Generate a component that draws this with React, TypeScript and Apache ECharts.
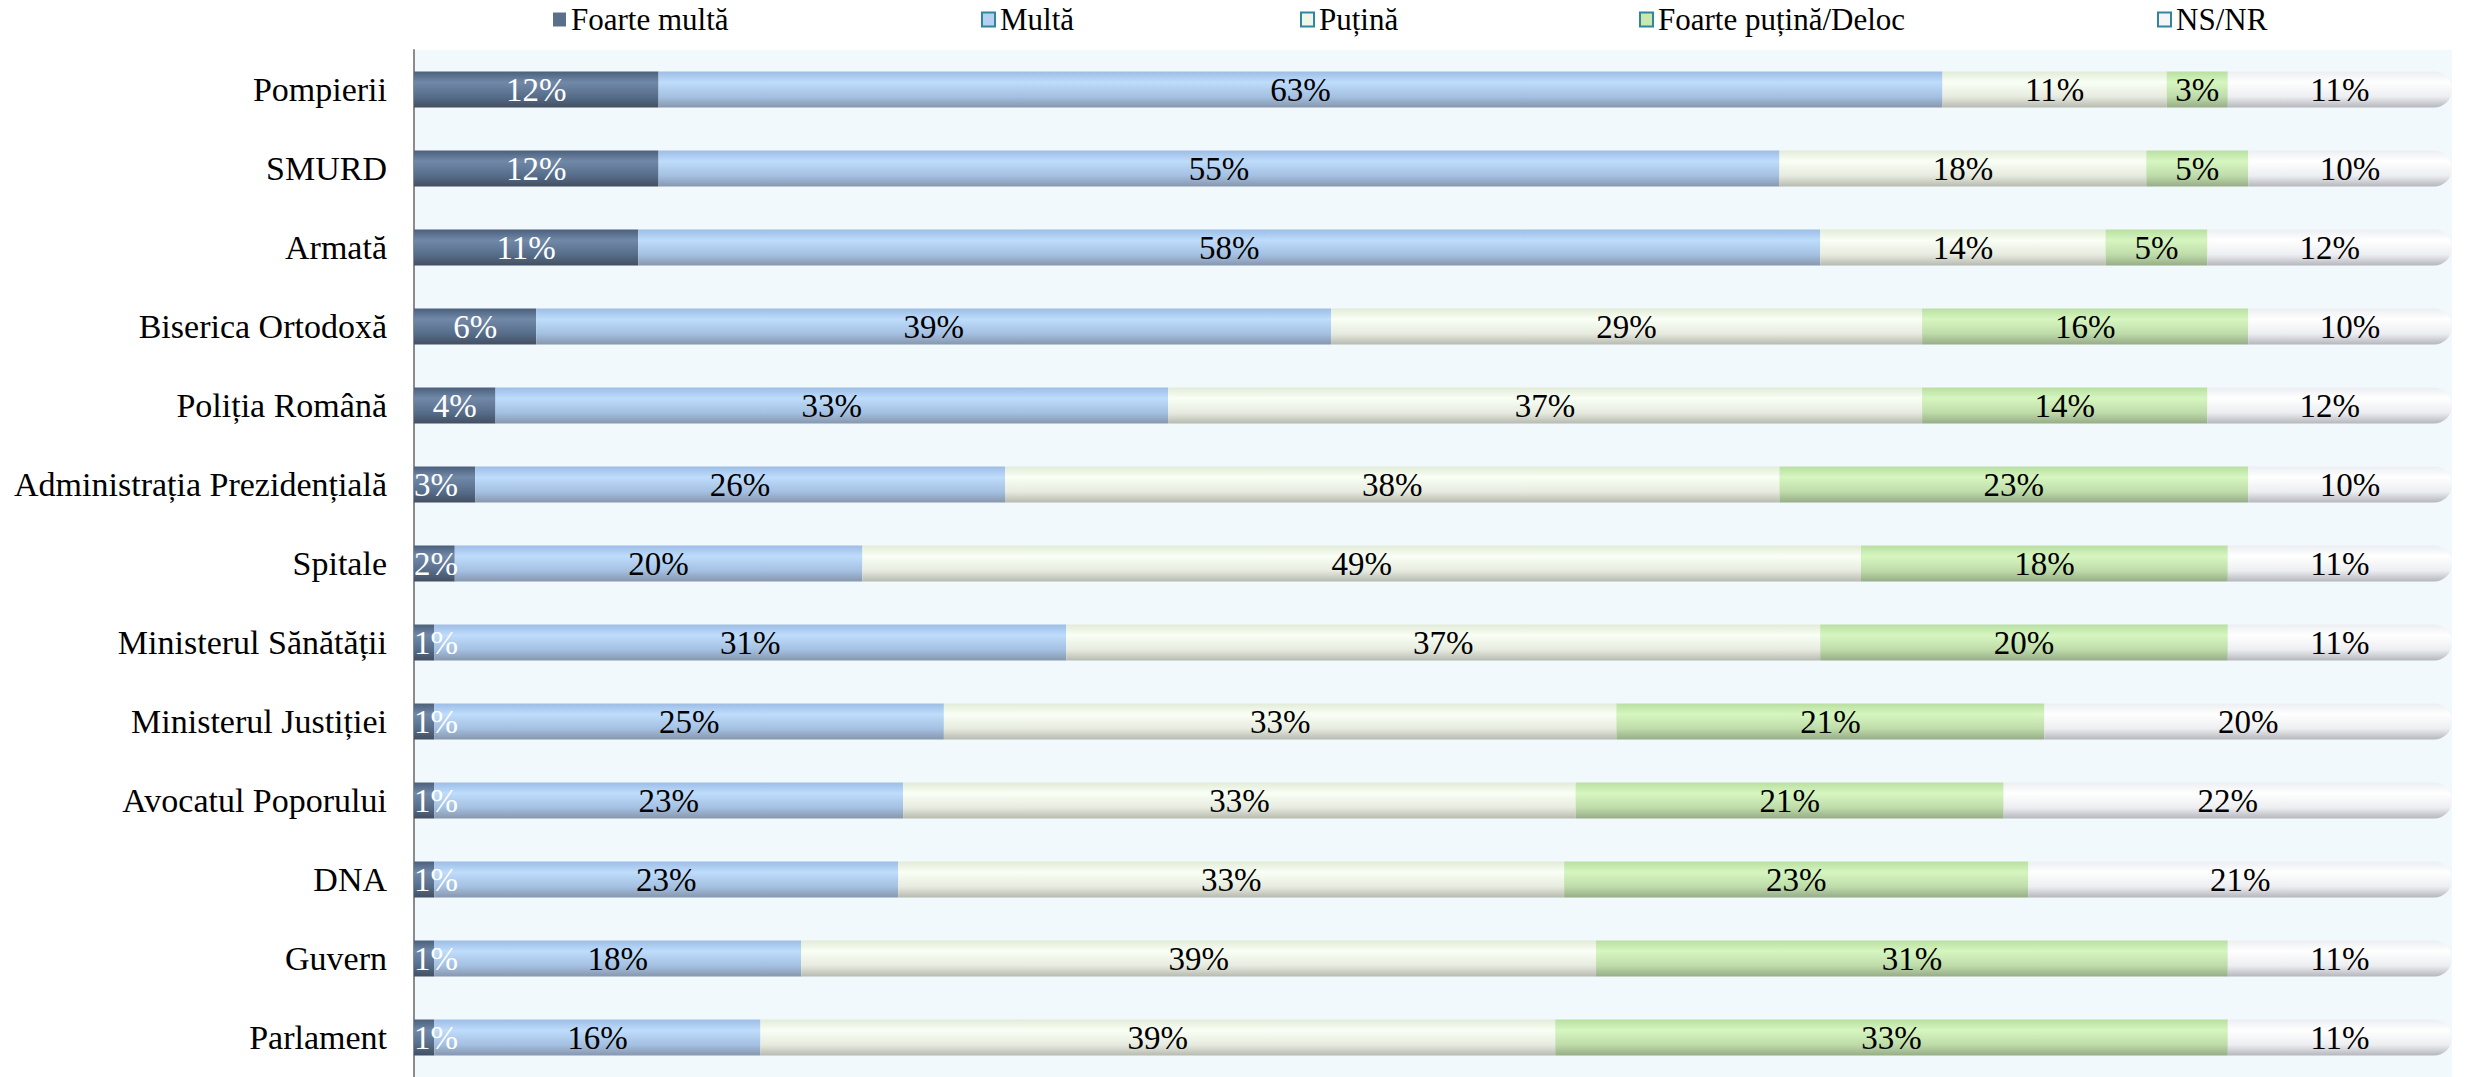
import React, { useEffect, useRef } from "react";
import * as echarts from "echarts";

const categories = [
  "Pompierii",
  "SMURD",
  "Armată",
  "Biserica Ortodoxă",
  "Poliția Română",
  "Administrația Prezidențială",
  "Spitale",
  "Ministerul Sănătății",
  "Ministerul Justiției",
  "Avocatul Poporului",
  "DNA",
  "Guvern",
  "Parlament",
];

const seriesNames = ["Foarte multă", "Multă", "Puțină", "Foarte puțină/Deloc", "NS/NR"];

const foarteMulta = [12, 12, 11, 6, 4, 3, 2, 1, 1, 1, 1, 1, 1];
const multa = [63, 55, 58, 39, 33, 26, 20, 31, 25, 23, 23, 18, 16];
const putina = [11, 18, 14, 29, 37, 38, 49, 37, 33, 33, 33, 39, 39];
const foartePutina = [3, 5, 5, 16, 14, 23, 18, 20, 21, 21, 23, 31, 33];
const nsnr = [11, 10, 12, 10, 12, 10, 11, 11, 20, 22, 21, 11, 11];

const allSeries = [foarteMulta, multa, putina, foartePutina, nsnr];

const FONT = "Liberation Serif";

function grad(stops: string[]) {
  return new echarts.graphic.LinearGradient(0, 0, 0, 1, [
    { offset: 0, color: stops[0] },
    { offset: 0.3, color: stops[1] },
    { offset: 0.7, color: stops[2] },
    { offset: 1, color: stops[3] },
  ]);
}

const gradients = [
  ["#4B607C", "#7189A8", "#566D8A", "#434F61"],
  ["#9DBDE6", "#BEDCFB", "#A4C0E2", "#8797AD"],
  ["#E2EBD8", "#F9FFF5", "#E7EBDF", "#B6BAB0"],
  ["#B9DFA1", "#D6F6C0", "#BEDCA9", "#97AC88"],
  ["#ECEEF2", "#FFFFFF", "#EDEEF1", "#B5B7BD"],
];

const legendColors = [
  { color: "#5A6F8C", borderColor: "#5A6F8C" },
  { color: "#B5D0F0", borderColor: "#31859C" },
  { color: "#F0F5EA", borderColor: "#31859C" },
  { color: "#C8E8B0", borderColor: "#31859C" },
  { color: "#F4F5F8", borderColor: "#31859C" },
];

const legendLefts = [553, 981, 1300, 1639, 2157];

export default function App() {
  const ref = useRef<HTMLDivElement>(null);
  useEffect(() => {
    if (!ref.current) return;
    const chart = echarts.init(ref.current, null, { renderer: "svg" });
    const totals = categories.map((_, i) =>
      allSeries.reduce((s, arr) => s + arr[i], 0)
    );
    const series = allSeries.map((arr, si) => ({
      name: seriesNames[si],
      type: "bar",
      stack: "total",
      barWidth: 36,
      data: arr.map((v, i) => {
        const item: any = { value: (v / totals[i]) * 100, raw: v };
        if (si === 0 && v <= 3) {
          item.label = { position: "insideLeft", distance: 0 };
        }
        return item;
      }),
      itemStyle: {
        color: grad(gradients[si]),
        borderRadius: si === 4 ? [0, 18, 18, 0] : 0,
      },
      label: {
        show: true,
        position: "inside",
        formatter: (p: any) => p.data.raw + "%",
        color: si === 0 ? "#FFFFFF" : "#000000",
        fontFamily: FONT,
        fontSize: 33,
      },
      emphasis: { disabled: true },
    }));
    const legends = seriesNames.map((name, i) => ({
      left: legendLefts[i],
      top: 4,
      padding: 0,
      itemWidth: 13,
      itemHeight: 14,
      icon: "rect",
      data: [
        {
          name,
          itemStyle: {
            color: legendColors[i].color,
            borderColor: legendColors[i].borderColor,
            borderWidth: i === 0 ? 0 : 2,
          },
        },
      ],
      textStyle: { fontFamily: FONT, fontSize: 31, color: "#000" },
      selectedMode: false,
    }));
    chart.setOption({
      animation: false,
      legend: legends,
      grid: {
        left: 414,
        right: 16,
        top: 50,
        bottom: 0,
        show: true,
        backgroundColor: "#F2F9FD",
        borderWidth: 0,
      },
      xAxis: { type: "value", min: 0, max: 100, show: false },
      yAxis: {
        type: "category",
        inverse: true,
        data: categories,
        axisLine: { show: true, lineStyle: { color: "#8C8C8C", width: 2 } },
        axisTick: { show: false },
        axisLabel: {
          fontFamily: FONT,
          fontSize: 34,
          color: "#000",
          margin: 27,
        },
        splitLine: { show: false },
      },
      series,
    });
    return () => chart.dispose();
  }, []);
  return (
    <div
      ref={ref}
      style={{ position: "absolute", left: 0, top: 0, width: 2468, height: 1077 }}
    />
  );
}
